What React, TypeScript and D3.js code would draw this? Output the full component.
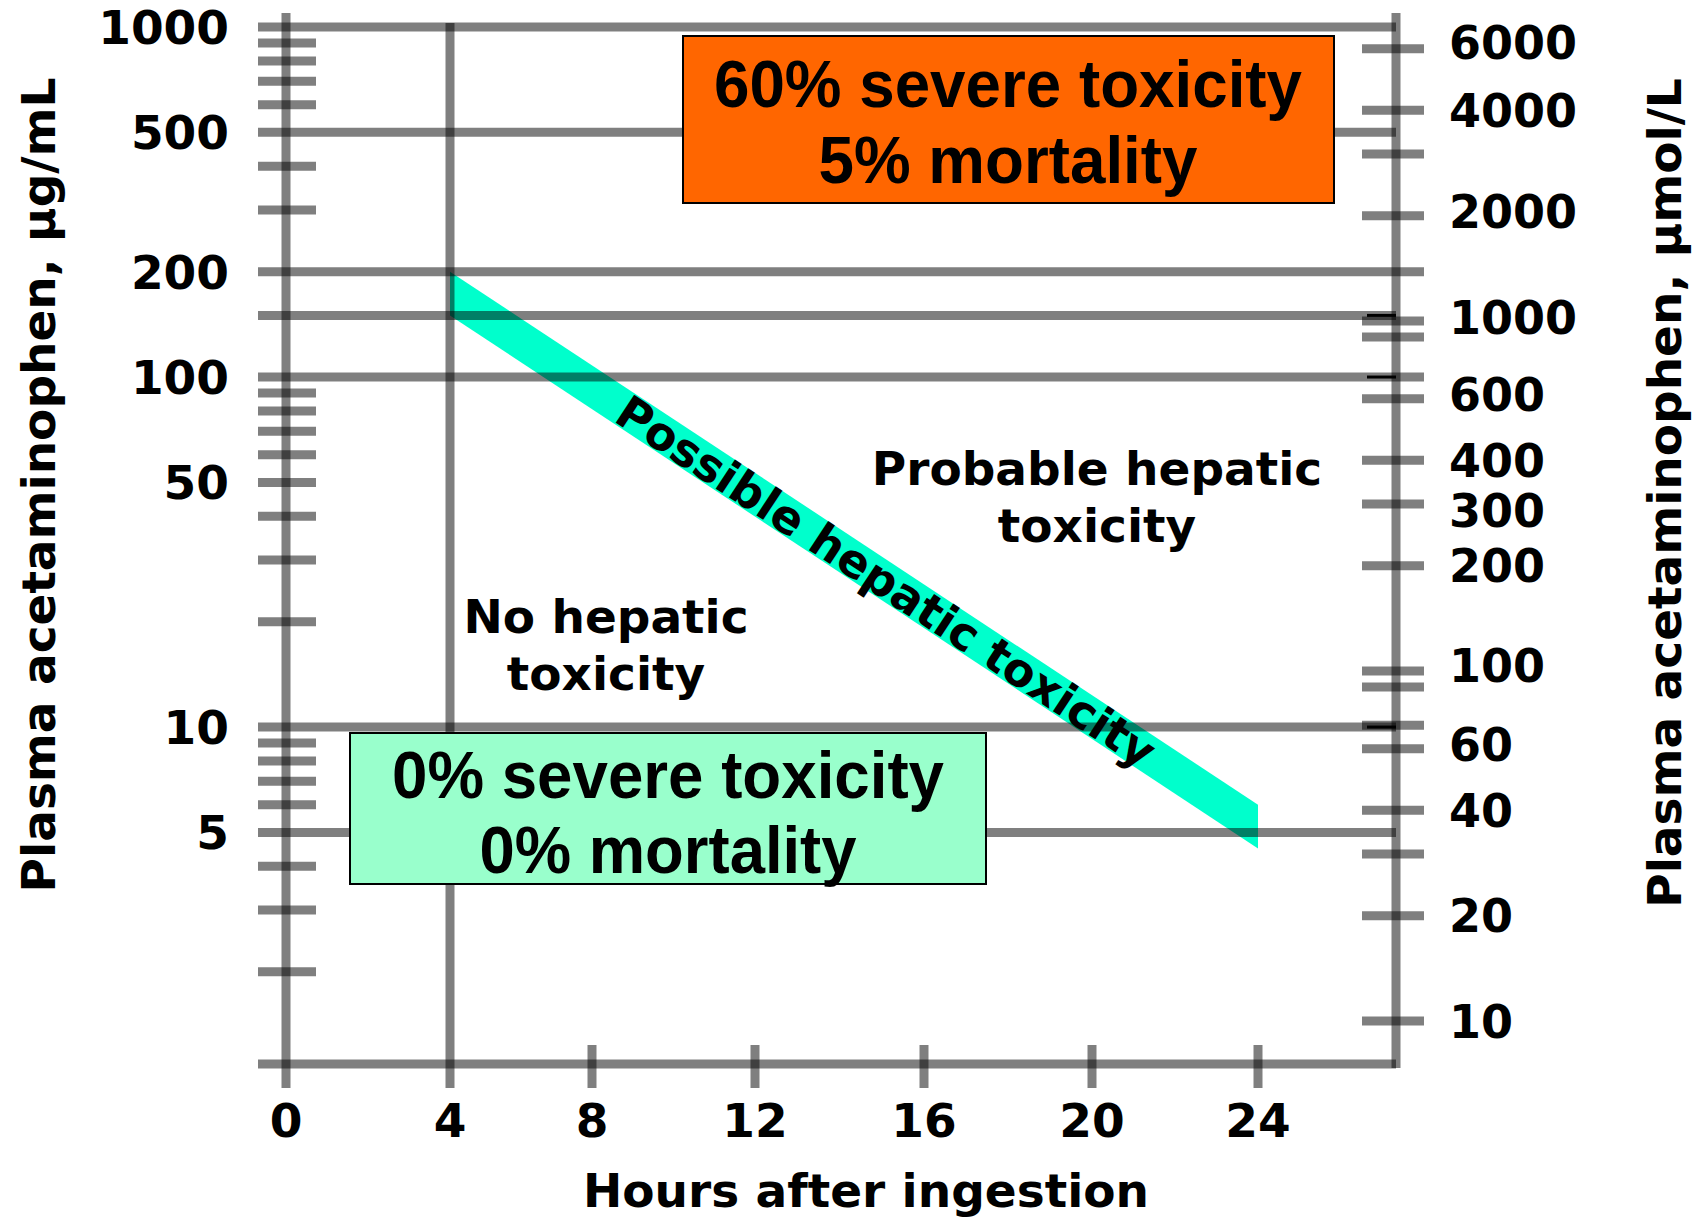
import React from "react";
import * as d3 from "d3";

// ---------- data ----------
const hourTicks = [0, 4, 8, 12, 16, 20, 24];
const leftLabelValues = [1000, 500, 200, 100, 50, 10, 5];
const leftMinorTicks = [900, 800, 700, 600, 400, 300, 90, 80, 70, 60, 50, 40, 30, 20, 9, 8, 7, 6, 4, 3, 2];
const gridValues = [1000, 500, 200, 150, 100, 10, 5];
const extendedGridValues = [200, 100];
const rightTickValues = [6000, 4000, 3000, 2000, 1000, 900, 600, 400, 300, 200, 100, 90, 70, 60, 40, 30, 20, 10];
const rightLabelValues = [6000, 4000, 2000, 1000, 600, 400, 300, 200, 100, 60, 40, 20, 10];
const blackMarkValues = [150, 100, 10];
const bandUpper = [
  { hour: 4, value: 200 },
  { hour: 24, value: 6.0 },
];
const bandLower = [
  { hour: 4, value: 150 },
  { hour: 24, value: 4.5 },
];
const bandLabelHour = 14.8;
const severeBox = ["60% severe toxicity", "5% mortality"];
const safeBox = ["0% severe toxicity", "0% mortality"];
const probableLabel = ["Probable hepatic", "toxicity"];
const noLabel = ["No hepatic", "toxicity"];
const bandLabel = "Possible hepatic toxicity";
const xTitle = "Hours after ingestion";
const yLeftTitle = "Plasma acetaminophen, \u00b5g/mL";
const yRightTitle = "Plasma acetaminophen, \u00b5mol/L";

// ---------- layout ----------
const W = 1699;
const H = 1217;
const X_LEFT = 286;
const X_RIGHT = 1396;
const Y_TOP = 27;
const Y_BOTTOM = 1064;
const LW = 9;
const LINE = { stroke: "#000", strokeOpacity: 0.5, strokeWidth: LW };
const VFONT = "'DejaVu Sans', Verdana, sans-serif";
const AFONT = "'Liberation Sans', Arial, sans-serif";
// the hand-drawn hour axis is slightly uneven
const HOUR_PX = [286, 450, 592, 755, 924, 1092, 1258];
const RIGHT_LABEL_NUDGE: Record<number, number> = { 6000: -6, 2000: -4, 1000: -4, 600: -4, 300: 6, 100: -6, 60: -4 };

const x = d3.scaleLinear().domain(hourTicks).range(HOUR_PX);
const yL = d3.scaleLog().domain([1.09, 1000]).range([Y_BOTTOM, Y_TOP]);
const yR = d3.scaleLog().domain([7.54, 6918]).range([Y_BOTTOM, Y_TOP]);

export default function App() {
  const bandPts = [...bandUpper, ...bandLower.slice().reverse()];
  const bandPath = d3
    .line<{ hour: number; value: number }>()
    .x((d) => x(d.hour))
    .y((d) => yL(d.value))(bandPts) + "Z";

  const u0 = bandUpper[0], u1 = bandUpper[1];
  const angle =
    (Math.atan2(yL(u1.value) - yL(u0.value), x(u1.hour) - x(u0.hour)) * 180) / Math.PI;
  const t = (bandLabelHour - u0.hour) / (u1.hour - u0.hour);
  const l0 = bandLower[0], l1 = bandLower[1];
  const lx = x(u0.hour) + t * (x(u1.hour) - x(u0.hour));
  const upY = yL(u0.value) + t * (yL(u1.value) - yL(u0.value));
  const loY = yL(l0.value) + t * (yL(l1.value) - yL(l0.value));
  const ly = (upY + loY) / 2;

  return (
    <svg
      width={W}
      height={H}
      style={{ position: "absolute", left: 0, top: 0, background: "#fff" }}
    >
      <rect x={0} y={0} width={W} height={H} fill="#fff" />
      {/* band */}
      <path d={bandPath} fill="#00FFCC" />

      {/* horizontal grid lines */}
      {gridValues.map((v) => (
        <line
          key={"g" + v}
          x1={258}
          x2={extendedGridValues.includes(v) ? 1424 : X_RIGHT}
          y1={yL(v)}
          y2={yL(v)}
          {...LINE}
        />
      ))}
      {/* bottom axis */}
      <line x1={258} x2={X_RIGHT} y1={Y_BOTTOM} y2={Y_BOTTOM} {...LINE} />
      {/* left axis */}
      <line x1={X_LEFT} x2={X_LEFT} y1={13} y2={1088} {...LINE} />
      {/* right axis */}
      <line x1={X_RIGHT} x2={X_RIGHT} y1={13} y2={1068} {...LINE} />
      {/* 4h vertical */}
      <line x1={x(4)} x2={x(4)} y1={Y_TOP - 4} y2={1088} {...LINE} />
      {/* x ticks */}
      {hourTicks
        .filter((h) => h > 4)
        .map((h) => (
          <line key={"xt" + h} x1={x(h)} x2={x(h)} y1={1045} y2={1088} {...LINE} />
        ))}
      {/* left minor ticks */}
      {leftMinorTicks.map((v) => (
        <line key={"lt" + v} x1={258} x2={316} y1={yL(v)} y2={yL(v)} {...LINE} />
      ))}
      {/* right ticks */}
      {rightTickValues.map((v) => (
        <line key={"rt" + v} x1={1362} x2={1424} y1={yR(v)} y2={yR(v)} {...LINE} />
      ))}
      {/* small black marks */}
      {blackMarkValues.map((v) => (
        <line key={"bm" + v} x1={1367} x2={1396} y1={yL(v)} y2={yL(v)} stroke="#000" strokeWidth={3} />
      ))}

      {/* left tick labels */}
      {leftLabelValues.map((v) => (
        <text
          key={"ll" + v}
          x={229}
          y={yL(v)}
          dy="0.36em"
          textAnchor="end"
          fontFamily={VFONT}
          fontWeight="bold"
          fontSize={47}
          fill="#000"
        >
          {v}
        </text>
      ))}
      {/* right tick labels */}
      {rightLabelValues.map((v) => (
        <text
          key={"rl" + v}
          x={1449}
          y={yR(v) + (RIGHT_LABEL_NUDGE[v] || 0)}
          dy="0.36em"
          textAnchor="start"
          fontFamily={VFONT}
          fontWeight="bold"
          fontSize={46}
          fill="#000"
        >
          {v}
        </text>
      ))}
      {/* x tick labels */}
      {hourTicks.map((h) => (
        <text
          key={"xl" + h}
          x={x(h)}
          y={1137}
          textAnchor="middle"
          fontFamily={VFONT}
          fontWeight="bold"
          fontSize={47}
          fill="#000"
        >
          {h}
        </text>
      ))}

      {/* axis titles */}
      <text
        x={866}
        y={1207}
        textAnchor="middle"
        fontFamily={VFONT}
        fontWeight="bold"
        fontSize={47}
      >
        {xTitle}
      </text>
      <text
        transform="translate(55,485) rotate(-90)"
        textAnchor="middle"
        fontFamily={VFONT}
        fontWeight="bold"
        fontSize={47}
      >
        {yLeftTitle}
      </text>
      <text
        transform="translate(1681,493) rotate(-90)"
        textAnchor="middle"
        fontFamily={VFONT}
        fontWeight="bold"
        fontSize={47}
      >
        {yRightTitle}
      </text>

      {/* region labels */}
      {probableLabel.map((s, i) => (
        <text
          key={"pl" + i}
          x={1097}
          y={485 + i * 57}
          textAnchor="middle"
          fontFamily={VFONT}
          fontWeight="bold"
          fontSize={47}
        >
          {s}
        </text>
      ))}
      {noLabel.map((s, i) => (
        <text
          key={"nl" + i}
          x={606}
          y={633 + i * 57}
          textAnchor="middle"
          fontFamily={VFONT}
          fontWeight="bold"
          fontSize={47}
        >
          {s}
        </text>
      ))}

      {/* band label */}
      <text
        transform={`translate(${lx},${ly}) rotate(${angle})`}
        textAnchor="middle"
        dy="0.36em"
        fontFamily={VFONT}
        fontWeight="bold"
        fontSize={46}
      >
        {bandLabel}
      </text>

      {/* boxes */}
      <rect x={683} y={36} width={651} height={167} fill="#FF6600" stroke="#000" strokeWidth={2} />
      {severeBox.map((s, i) => (
        <text
          key={"sb" + i}
          x={1008}
          y={107 + i * 76}
          textAnchor="middle"
          fontFamily={AFONT}
          fontWeight="bold"
          fontSize={67}
          textLength={i === 0 ? 588 : 379}
          lengthAdjust="spacingAndGlyphs"
        >
          {s}
        </text>
      ))}
      <rect x={350} y={733} width={636} height={151} fill="#99FFCC" stroke="#000" strokeWidth={2} />
      {safeBox.map((s, i) => (
        <text
          key={"gb" + i}
          x={668}
          y={798 + i * 75}
          textAnchor="middle"
          fontFamily={AFONT}
          fontWeight="bold"
          fontSize={67}
          textLength={i === 0 ? 552 : 377}
          lengthAdjust="spacingAndGlyphs"
        >
          {s}
        </text>
      ))}
    </svg>
  );
}
